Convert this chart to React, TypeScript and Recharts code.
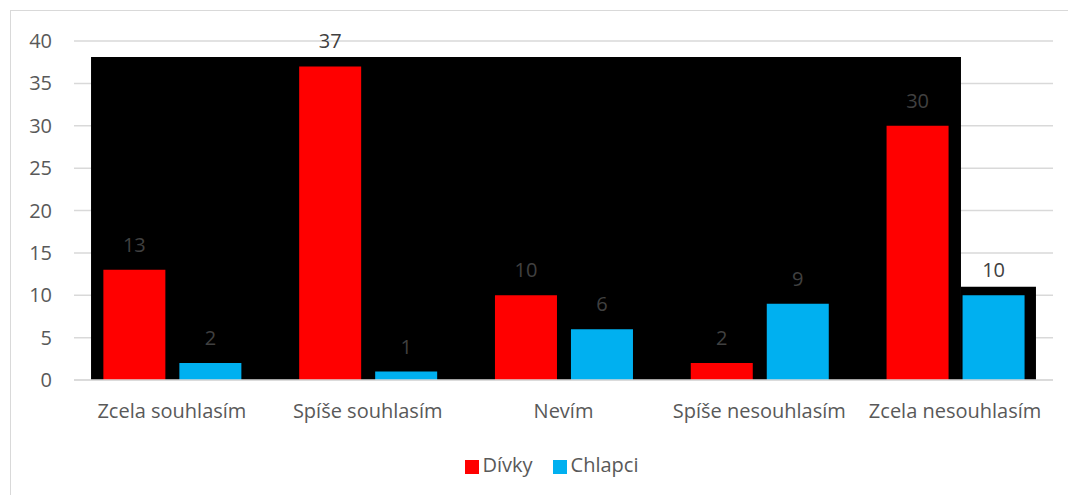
import React from "react";
import {
  Bar,
  BarChart,
  CartesianGrid,
  LabelList,
  Legend,
  ReferenceArea,
  XAxis,
  YAxis,
} from "recharts";

const CATEGORIES = ["Zcela souhlasím", "Spíše souhlasím", "Nevím", "Spíše nesouhlasím", "Zcela nesouhlasím"];
const SERIES = ["Dívky", "Chlapci"];
const DIVKY = [13, 37, 10, 2, 30];
const CHLAPCI = [2, 1, 6, 9, 10];
const Y_TICKS = [0, 5, 10, 15, 20, 25, 30, 35, 40];

// black masks sitting behind the bars (position on a 0..5 category scale, top in y units)
const MASK_STARTS = [0.087, 4.53];
const MASK_ENDS = [4.53, 4.913];
const MASK_TOPS = [38.1, 11];

const FONT = "'Open Sans', sans-serif";
const TEXT_COLOR = "#595959";
const GRID_COLOR = "#D9D9D9";

const data = CATEGORIES.map((label, i) => ({ label, slot: i + 0.5, divky: DIVKY[i], chlapci: CHLAPCI[i] }));

function legendText(value: string) {
  return <span style={{ color: TEXT_COLOR, marginRight: 10 }}>{value}</span>;
}

export default function App() {
  return (
    <div style={{ position: "fixed", left: 0, top: 0, width: 1068, height: 495, overflow: "hidden", background: "#fff" }}>
      <div
        style={{
          position: "absolute",
          left: 10,
          top: 10,
          width: 1060,
          height: 500,
          border: `1px solid ${GRID_COLOR}`,
          fontFamily: FONT,
        }}
      >
        <BarChart
          width={1060}
          height={484}
          data={data}
          margin={{ top: 30, right: 18, bottom: 15, left: 13 }}
          barCategoryGap="15%"
          barGap={14}
        >
          <CartesianGrid vertical={false} stroke={GRID_COLOR} strokeWidth={1.5} />
          <XAxis
            dataKey="label"
            tickLine={false}
            tickSize={0}
            tickMargin={24}
            height={70}
            axisLine={{ stroke: GRID_COLOR, strokeWidth: 1.5 }}
            tick={{ fontSize: 20, fill: TEXT_COLOR, fontFamily: FONT }}
            interval={0}
          />
          <XAxis
            xAxisId="mask"
            dataKey="slot"
            type="number"
            scale="linear"
            domain={[0, 5]}
            padding={{ left: 0, right: 0 }}
            hide
            allowDataOverflow
          />
          <YAxis
            domain={[0, 40]}
            ticks={Y_TICKS}
            width={50}
            tickLine={false}
            axisLine={false}
            tickSize={0}
            tickMargin={22}
            tick={{ fontSize: 20, fill: TEXT_COLOR, fontFamily: FONT }}
          />
          {MASK_STARTS.map((x1, i) => (
            <ReferenceArea
              key={i}
              xAxisId="mask"
              x1={x1}
              x2={MASK_ENDS[i]}
              y1={0}
              y2={MASK_TOPS[i]}
              fill="#000"
              fillOpacity={1}
              stroke="none"
              ifOverflow="visible"
            />
          ))}
          <Legend
            iconType="square"
            iconSize={14}
            formatter={legendText}
            itemSorter={(item: any) => SERIES.indexOf(item.value)}
            wrapperStyle={{ height: 30, lineHeight: "30px", fontSize: 20, fontFamily: FONT, paddingLeft: 23 }}
          />
          <Bar dataKey="divky" name={SERIES[0]} fill="#FF0000" isAnimationActive={false}>
            <LabelList dataKey="divky" position="top" offset={18} fill="#404040" fontSize={20} fontFamily={FONT} />
          </Bar>
          <Bar dataKey="chlapci" name={SERIES[1]} fill="#00B0F0" isAnimationActive={false}>
            <LabelList dataKey="chlapci" position="top" offset={18} fill="#404040" fontSize={20} fontFamily={FONT} />
          </Bar>
        </BarChart>
      </div>
    </div>
  );
}
